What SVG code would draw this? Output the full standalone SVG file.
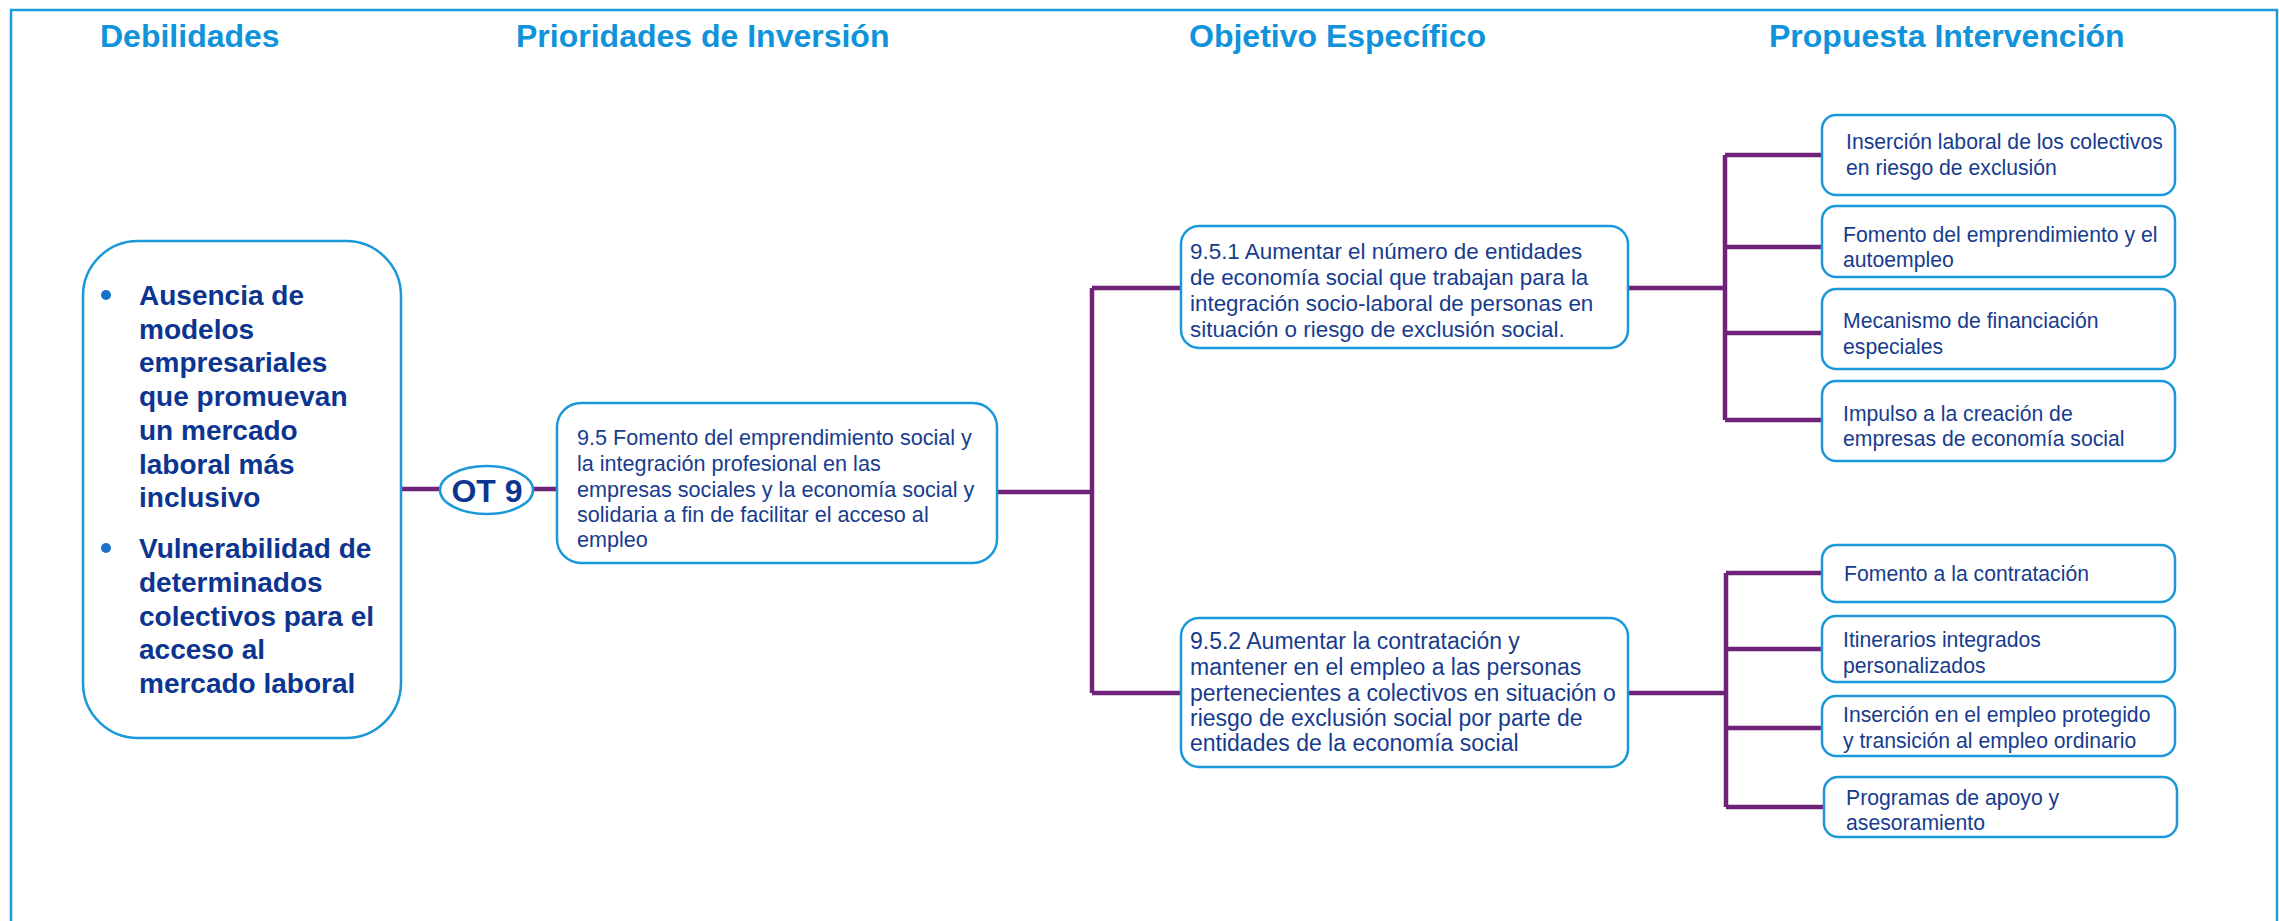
<svg xmlns="http://www.w3.org/2000/svg" width="2279" height="921" viewBox="0 0 2279 921">
<defs>
<style>
.title{font-family:"Liberation Sans",Arial,sans-serif;font-weight:bold;font-size:32px;fill:#1093DB}
.box{fill:#fff;stroke:#1A98DA;stroke-width:2.5}
.t{font-family:"Liberation Sans",Arial,sans-serif;font-size:21.2px;fill:#173C8E}
.p{font-family:"Liberation Sans",Arial,sans-serif;font-size:21.6px;fill:#173C8E}
.o{font-family:"Liberation Sans",Arial,sans-serif;font-size:22.4px;fill:#173C8E}
.q{font-family:"Liberation Sans",Arial,sans-serif;font-size:23px;fill:#173C8E}
.b{font-family:"Liberation Sans",Arial,sans-serif;font-weight:bold;font-size:28px;fill:#0C3590}
.con{fill:none;stroke:#6E2379;stroke-width:4.5}
</style>
</defs>
<rect x="0" y="0" width="2279" height="921" fill="#fff"/>
<rect x="11" y="10" width="2266" height="930" fill="none" stroke="#1C9BE0" stroke-width="2.5"/>
<g id="titles">
<text class="title" x="100" y="47">Debilidades</text>
<text class="title" x="516" y="47">Prioridades de Inversión</text>
<text class="title" x="1189" y="47">Objetivo Específico</text>
<text class="title" x="1769" y="47">Propuesta Intervención</text>
</g>
<g id="connectors">
<path class="con" d="M401 489H442M531 489H557"/>
<path class="con" d="M997 492H1092M1092 288V693M1092 288H1181M1092 693H1181"/>
<path class="con" d="M1628 288H1725M1725 155V420M1725 155H1822M1725 247H1822M1725 333H1822M1725 420H1822"/>
<path class="con" d="M1628 693H1726M1726 573V807M1726 573H1822M1726 649H1822M1726 728H1822M1726 807H1824"/>
</g>
<g id="debilidades">
<rect class="box" x="83" y="241" width="318" height="497" rx="55"/>
<circle cx="106" cy="295" r="5" fill="#1A72C8"/>
<circle cx="106" cy="548" r="5" fill="#1A72C8"/>
<text class="b" x="139" y="305">Ausencia de</text>
<text class="b" x="139" y="339">modelos</text>
<text class="b" x="139" y="372">empresariales</text>
<text class="b" x="139" y="406">que promuevan</text>
<text class="b" x="139" y="440">un mercado</text>
<text class="b" x="139" y="474">laboral más</text>
<text class="b" x="139" y="507">inclusivo</text>
<text class="b" x="139" y="558">Vulnerabilidad de</text>
<text class="b" x="139" y="592">determinados</text>
<text class="b" x="139" y="626">colectivos para el</text>
<text class="b" x="139" y="659">acceso al</text>
<text class="b" x="139" y="693">mercado laboral</text>
</g>
<g id="ot9">
<ellipse class="box" cx="486.5" cy="490" rx="46.5" ry="24"/>
<text x="487" y="502" text-anchor="middle" font-family="Liberation Sans,Arial,sans-serif" font-weight="bold" font-size="32" fill="#0C3590">OT 9</text>
</g>
<g id="p95">
<rect class="box" x="557" y="403" width="440" height="160" rx="24"/>
<text class="p" x="577" y="445">9.5 Fomento del emprendimiento social y</text>
<text class="p" x="577" y="471">la integración profesional en las</text>
<text class="p" x="577" y="497">empresas sociales y la economía social y</text>
<text class="p" x="577" y="522">solidaria a fin de facilitar el acceso al</text>
<text class="p" x="577" y="547">empleo</text>
</g>
<g id="o951">
<rect class="box" x="1181" y="226" width="447" height="122" rx="18"/>
<text class="o" x="1190" y="259">9.5.1 Aumentar el número de entidades</text>
<text class="o" x="1190" y="285">de economía social que trabajan para la</text>
<text class="o" x="1190" y="311">integración socio-laboral de personas en</text>
<text class="o" x="1190" y="337">situación o riesgo de exclusión social.</text>
</g>
<g id="o952">
<rect class="box" x="1181" y="618" width="447" height="149" rx="18"/>
<text class="q" x="1190" y="649">9.5.2 Aumentar la contratación y</text>
<text class="q" x="1190" y="675">mantener en el empleo a las personas</text>
<text class="q" x="1190" y="701">pertenecientes a colectivos en situación o</text>
<text class="q" x="1190" y="726">riesgo de exclusión social por parte de</text>
<text class="q" x="1190" y="751">entidades de la economía social</text>
</g>
<g id="r1">
<rect class="box" x="1822" y="115" width="353" height="80" rx="14"/>
<text class="t" x="1846" y="149">Inserción laboral de los colectivos</text>
<text class="t" x="1846" y="175">en riesgo de exclusión</text>
</g>
<g id="r2">
<rect class="box" x="1822" y="206" width="353" height="71" rx="14"/>
<text class="t" x="1843" y="242">Fomento del emprendimiento y el</text>
<text class="t" x="1843" y="267">autoempleo</text>
</g>
<g id="r3">
<rect class="box" x="1822" y="289" width="353" height="80" rx="14"/>
<text class="t" x="1843" y="328">Mecanismo de financiación</text>
<text class="t" x="1843" y="354">especiales</text>
</g>
<g id="r4">
<rect class="box" x="1822" y="381" width="353" height="80" rx="14"/>
<text class="t" x="1843" y="421">Impulso a la creación de</text>
<text class="t" x="1843" y="446">empresas de economía social</text>
</g>
<g id="r5">
<rect class="box" x="1822" y="545" width="353" height="57" rx="14"/>
<text class="t" x="1844" y="581">Fomento a la contratación</text>
</g>
<g id="r6">
<rect class="box" x="1822" y="616" width="353" height="66" rx="14"/>
<text class="t" x="1843" y="647">Itinerarios integrados</text>
<text class="t" x="1843" y="673">personalizados</text>
</g>
<g id="r7">
<rect class="box" x="1822" y="696" width="353" height="60" rx="14"/>
<text class="t" x="1843" y="722">Inserción en el empleo protegido</text>
<text class="t" x="1843" y="748">y transición al empleo ordinario</text>
</g>
<g id="r8">
<rect class="box" x="1824" y="777" width="353" height="60" rx="14"/>
<text class="t" x="1846" y="805">Programas de apoyo y</text>
<text class="t" x="1846" y="830">asesoramiento</text>
</g>
</svg>
